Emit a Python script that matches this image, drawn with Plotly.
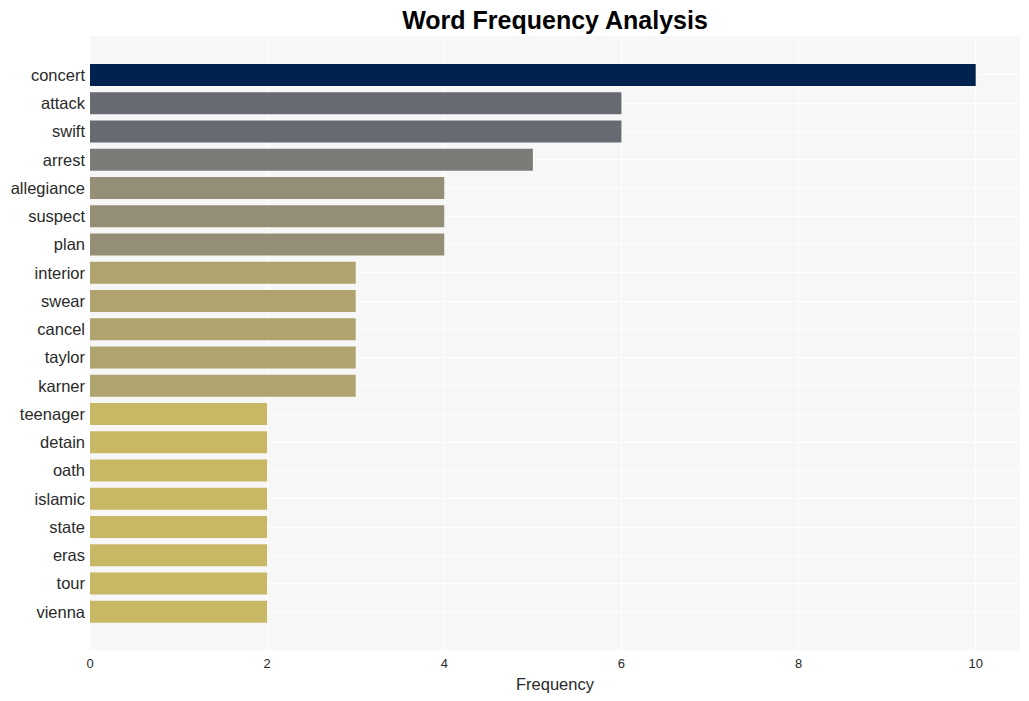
import plotly.graph_objects as go

words = ["concert", "attack", "swift", "arrest", "allegiance", "suspect", "plan",
         "interior", "swear", "cancel", "taylor", "karner", "teenager", "detain",
         "oath", "islamic", "state", "eras", "tour", "vienna"]
freqs = [10, 6, 6, 5, 4, 4, 4, 3, 3, 3, 3, 3, 2, 2, 2, 2, 2, 2, 2, 2]

palette = {10: "#00224e", 6: "#676a71", 5: "#7c7b77", 4: "#958e76", 3: "#afa46f", 2: "#c8b866"}
colors = [palette[v] for v in freqs]

fig = go.Figure(go.Bar(
    x=freqs, y=words, orientation="h",
    marker=dict(color=colors, line=dict(width=0)),
))

n = len(words)
fig.update_layout(
    width=1029, height=701,
    margin=dict(l=90, r=9, t=36, b=51, autoexpand=False),
    title=dict(text="<b>Word Frequency Analysis</b>", x=0.5, xref="paper", xanchor="center",
               yref="container", y=1 - 20 / 701, yanchor="middle",
               font=dict(family="Liberation Sans, Arial", size=25, color="black")),
    paper_bgcolor="white", plot_bgcolor="#f7f7f7",
    font=dict(family="Liberation Sans, Arial", color="#2a2a2a"),
    bargap=0.22,
    showlegend=False,
)
fig.update_xaxes(range=[0, 10.5], dtick=2, showgrid=True, gridcolor="white", gridwidth=1,
                 zeroline=False, tickfont=dict(size=13), automargin=False,
                 ticks="outside", ticklen=1, tickcolor="rgba(0,0,0,0)",
                 title=dict(text="Frequency", font=dict(size=16.5), standoff=8))
fig.update_yaxes(categoryorder="array", categoryarray=words, automargin=False,
                 range=[n - 1 + 1.35, -1.38], showgrid=True, gridcolor="white",
                 tickfont=dict(size=16.5), ticklabelstandoff=4)

fig.write_html("out.html", config={"displayModeBar": False},
               post_script="document.body.style.margin='0';document.body.style.overflow='hidden';")
